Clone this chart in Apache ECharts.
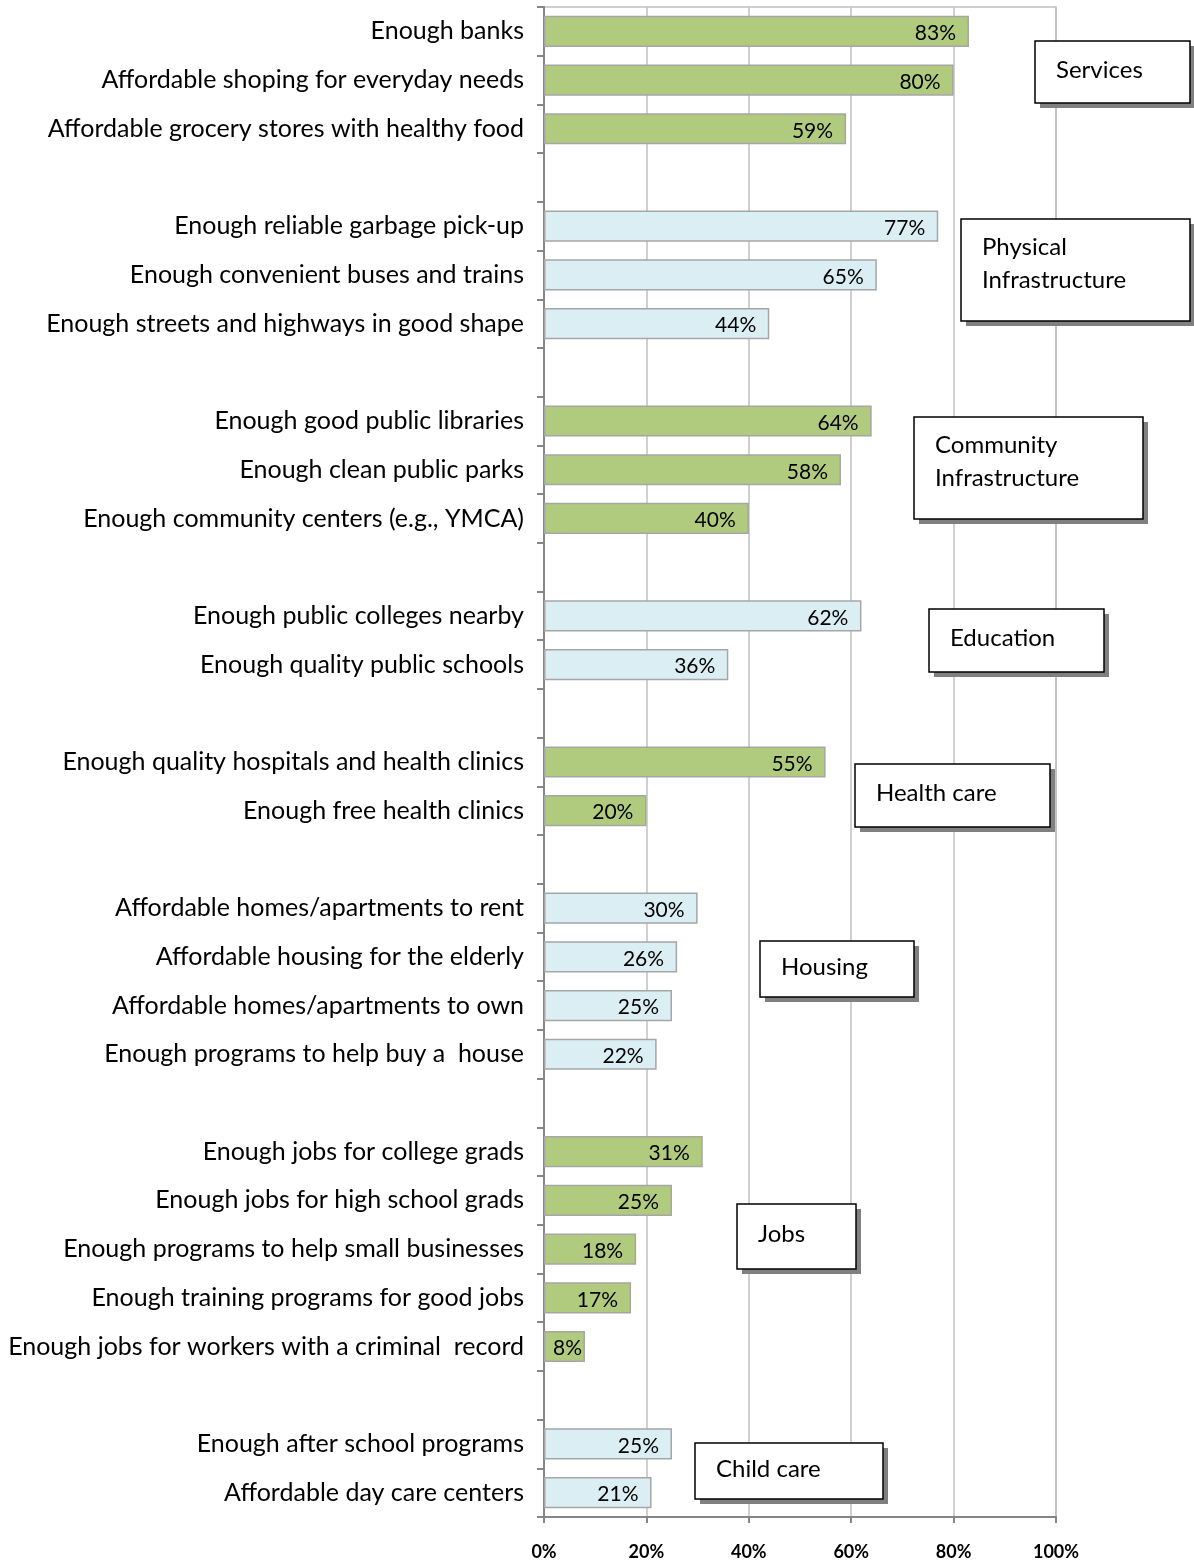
<!DOCTYPE html>
<html><head><meta charset="utf-8">
<script src="https://cdn.jsdelivr.net/npm/echarts@6/dist/echarts.min.js"></script>
<style>html,body{margin:0;padding:0;background:#fff}#c{width:1194px;height:1564px}</style>
</head><body><div id="c"></div>
<script>
// Categories (gap rows are blank separators between groups)
const categories = [
  'Enough banks','Affordable shoping for everyday needs','Affordable grocery stores with healthy food','gap1',
  'Enough reliable garbage pick-up','Enough convenient buses and trains','Enough streets and highways in good shape','gap2',
  'Enough good public libraries','Enough clean public parks','Enough community centers (e.g., YMCA)','gap3',
  'Enough public colleges nearby','Enough quality public schools','gap4',
  'Enough quality hospitals and health clinics','Enough free health clinics','gap5',
  'Affordable homes/apartments to rent','Affordable housing for the elderly','Affordable homes/apartments to own','Enough programs to help buy a  house','gap6',
  'Enough jobs for college grads','Enough jobs for high school grads','Enough programs to help small businesses','Enough training programs for good jobs','Enough jobs for workers with a criminal  record','gap7',
  'Enough after school programs','Affordable day care centers'
];
const values = [83,80,59,null, 77,65,44,null, 64,58,40,null, 62,36,null, 55,20,null, 30,26,25,22,null, 31,25,18,17,8,null, 25,21];
// group index per row: even groups green, odd groups light blue
const groupOf = [0,0,0,-1, 1,1,1,-1, 2,2,2,-1, 3,3,-1, 4,4,-1, 5,5,5,5,-1, 6,6,6,6,6,-1, 7,7];
const groupNames = ['Services','Physical\nInfrastructure','Community\nInfrastructure','Education','Health care','Housing','Jobs','Child care'];
const xTicks = [0,20,40,60,80,100];

const GREEN = '#b1cb7e', BLUE = '#dbeef4', BORDER = '#a6a6a6';
const FONT = 'Lato';

const chart = echarts.init(document.getElementById('c'), null, {renderer:'canvas'});

const seriesData = values.map((v,i)=> {
  if (v == null) return '-';
  const item = {
    value: v,
    itemStyle: {color: groupOf[i]%2===0 ? GREEN : BLUE, borderColor: BORDER, borderWidth: 1.5}
  };
  if (v < 10) item.label = {distance: 3};
  return item;
});

// annotation boxes: [left, top, width, height, group index]
const boxes = [
  [1035, 41, 155, 62, 0],
  [961, 219, 229, 102, 1],
  [914, 417, 229, 102, 2],
  [929, 609, 175, 63, 3],
  [855, 764, 195, 63, 4],
  [760, 941, 154, 56, 5],
  [737, 1204, 119, 65, 6],
  [695, 1443, 188, 56, 7]
];
const graphics = [];
boxes.forEach(b=>{
  graphics.push({type:'rect', shape:{x:b[0]+5,y:b[1]+5,width:b[2],height:b[3]}, style:{fill:'#808080'}, z:10});
  graphics.push({type:'rect', shape:{x:b[0],y:b[1],width:b[2],height:b[3]}, style:{fill:'#fff',stroke:'#000',lineWidth:1.5}, z:11});
  const txt = groupNames[b[4]];
  const twoLines = txt.indexOf('\n') >= 0;
  graphics.push({type:'text', x:b[0]+21, y: twoLines ? b[1]+12 : b[1]+b[3]/2 - 2,
    style:{text:txt, font:'24px '+FONT, fill:'#000', verticalAlign: twoLines?'top':'middle', lineHeight:33}, z:12});
});

chart.setOption({
  animation:false,
  grid:{left:544, right:138, top:7, bottom:47, show:true, borderColor:'#c0c0c0', borderWidth:1.5},
  xAxis:{type:'value', min:0, max:100, interval:20,
    axisLine:{show:true, lineStyle:{color:'#868686', width:2}},
    axisTick:{show:true, length:6, lineStyle:{color:'#868686', width:2}},
    axisLabel:{formatter:'{value}%', fontFamily:FONT, fontWeight:'bold', fontSize:18, color:'#000', margin:26},
    splitLine:{show:true, lineStyle:{color:'#c0c0c0', width:1.5}}
  },
  yAxis:{type:'category', data:categories, inverse:true,
    axisLine:{show:true, lineStyle:{color:'#868686', width:2}},
    axisTick:{show:true, length:7, lineStyle:{color:'#868686', width:2}},
    axisLabel:{fontFamily:FONT, fontSize:25, color:'#000', margin:20, interval:0,
      formatter: v => v.startsWith('gap') ? '' : v}
  },
  series:[{type:'bar', data:seriesData, barWidth:'64%',
    label:{show:true, position:'insideRight', distance:13, formatter:'{c}%', fontFamily:FONT, fontSize:21, color:'#000', offset:[0,2]}
  }],
  graphic: graphics
});
</script></body></html>
